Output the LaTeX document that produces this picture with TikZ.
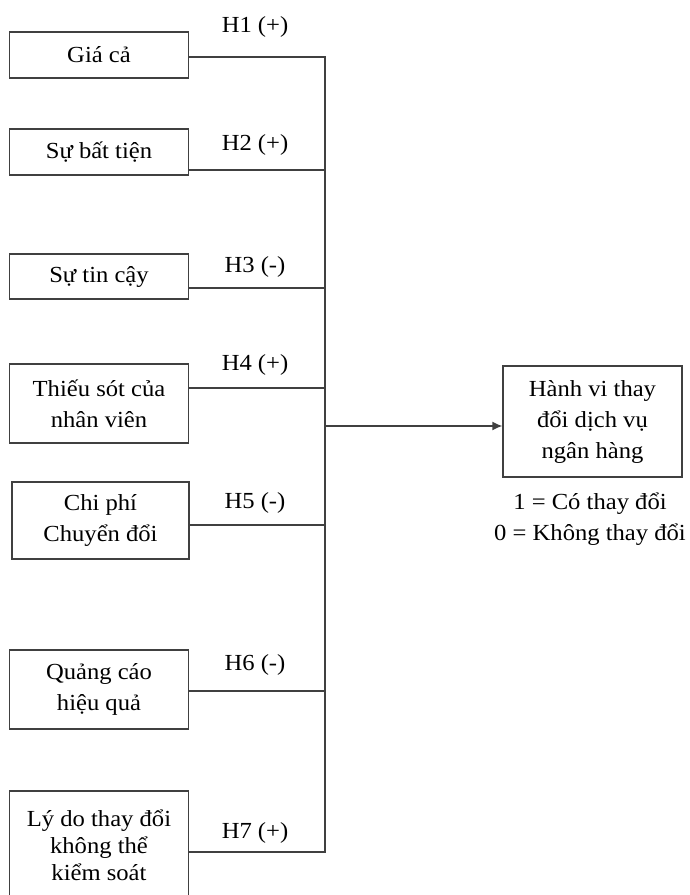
\documentclass[tikz,border=0pt]{standalone}
\usepackage{fontspec}
\setmainfont{Liberation Serif}[FakeStretch=1.07]
\usetikzlibrary{arrows.meta}
\tikzset{
  bien/.style={draw=black!75, line width=1.3pt, minimum width=179pt, inner sep=0pt, align=center, font=\fontsize{23}{31}\selectfont},
  noi/.style={draw=black!75, line width=1.3pt},
  nhan/.style={inner sep=0pt, align=center, font=\fontsize{23}{31}\selectfont}
}
\begin{document}
\begin{tikzpicture}[x=1pt,y=1pt]
\useasboundingbox (0,0) rectangle (690,-895);
\clip (0,0) rectangle (690,-895);

% cac bien doc lap
\node[bien, minimum height=46pt] (g1) at (99,-55) {Giá cả};
\node[bien, minimum height=46pt] (g2) at (99,-152) {Sự bất tiện};
\node[bien, minimum height=45pt] (g3) at (99,-276.5) {Sự tin cậy};
\node[bien, minimum height=79pt] (g4) at (99,-403.5) {Thiếu sót của\\nhân viên};
\node[bien, minimum height=77pt, minimum width=177pt] (g5) at (100.5,-520.5) {Chi phí\\Chuyển đổi};
\node[bien, minimum height=79pt] (g6) at (99,-689.5) {Quảng cáo\\hiệu quả};
\node[bien, minimum height=108pt, font=\fontsize{23}{27}\selectfont] (g7) at (99,-845) {Lý do thay đổi\\không thể\\kiểm soát};

% bien phu thuoc
\node[bien, minimum height=111pt] (kq) at (592.5,-421.5) {Hành vi thay\\đổi dịch vụ\\ngân hàng};
\node[nhan] (mahoa) at (590,-519) {1 = Có thay đổi\\0 = Không thay đổi};

\foreach \i/\y in {1/57,2/170,3/288,4/388,5/525,6/691,7/852}
	\coordinate (j\i) at (325,-\y);
\foreach \i in {2,...,6}
	\draw[noi] (g\i.east |- j\i) -- (j\i);
\draw[noi] (g1.east |- j1) -- (j1) -- (j7) -- (g7.east |- j7);

\foreach \i/\y/\s in {1/27/+,2/145/+,3/267/-,4/365/+,5/503/-,6/665/-,7/833/+}
	\node[nhan] (h\i) at (255,-\y) {H\i\ (\s)};

\coordinate (hub) at (325,-426);
\draw[noi, -{Latex[length=10pt,width=9pt]}] (hub) -- (hub -| kq.west);
\end{tikzpicture}
\end{document}
